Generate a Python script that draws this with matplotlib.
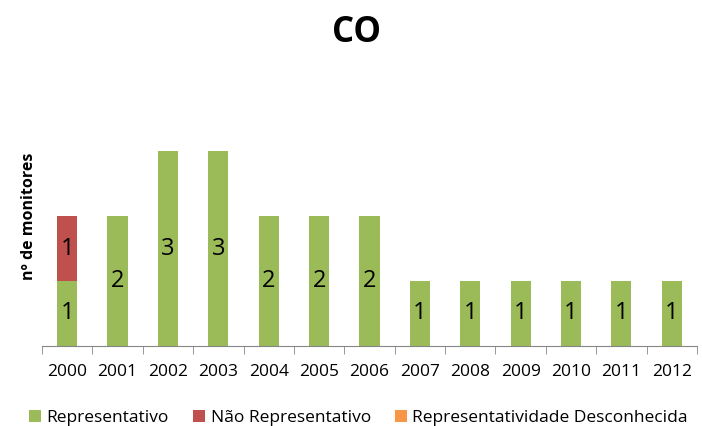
import matplotlib
matplotlib.use("Agg")
import matplotlib.pyplot as plt
import numpy as np

plt.rcParams['font.family'] = ['Open Sans', 'DejaVu Sans']

years = ['2000', '2001', '2002', '2003', '2004', '2005', '2006',
         '2007', '2008', '2009', '2010', '2011', '2012']
representativo = [1, 2, 3, 3, 2, 2, 2, 1, 1, 1, 1, 1, 1]
nao_representativo = [1, 0, 0, 0, 0, 0, 0, 0, 0, 0, 0, 0, 0]
desconhecida = [0, 0, 0, 0, 0, 0, 0, 0, 0, 0, 0, 0, 0]

c_green = '#9BBB59'
c_red = '#C0504D'
c_orange = '#F79646'

fig = plt.figure(figsize=(7.03, 4.26), dpi=100)
ax = fig.add_axes([0.0597, 0.1878, 0.9317, 0.6103])

x = np.arange(len(years))
w = 0.4
b1 = ax.bar(x, representativo, w, color=c_green, label='Representativo')
b2 = ax.bar(x, nao_representativo, w, bottom=representativo, color=c_red,
            label='Não Representativo')
bottom3 = np.array(representativo) + np.array(nao_representativo)
b3 = ax.bar(x, desconhecida, w, bottom=bottom3, color=c_orange,
            label='Representatividade Desconhecida')

for i in range(len(years)):
    if representativo[i] > 0:
        ax.text(x[i], representativo[i] / 2, str(representativo[i]),
                ha='center', va='center', fontsize=17, color='black')
    if nao_representativo[i] > 0:
        ax.text(x[i], representativo[i] + nao_representativo[i] / 2,
                str(nao_representativo[i]), ha='center', va='center',
                fontsize=17, color='black')

ax.set_xlim(-0.5, len(years) - 0.5)
ax.set_ylim(0, 4)
for s in ['top', 'right', 'left']:
    ax.spines[s].set_visible(False)
ax.spines['bottom'].set_color('#868686')
ax.set_yticks([])
ax.set_xticks(x)
ax.set_xticklabels(years, fontsize=12.5)
ax.set_xticks(np.arange(-0.5, len(years), 1), minor=True)
ax.tick_params(axis='x', which='major', length=0, pad=13)
ax.tick_params(axis='x', which='minor', length=6, color='#868686')

ax.set_ylabel('nº de monitores', fontsize=11.5, fontweight='bold')
ax.yaxis.set_label_coords(-0.008, 0.5)

fig.text(0.507, 0.922, 'CO', ha='center', va='center', fontsize=25,
         fontweight='bold')

fig.legend(handles=[b1, b2, b3], loc='center', bbox_to_anchor=(0.51, 0.018),
           ncol=3, frameon=False, fontsize=12.5, handlelength=0.7,
           handleheight=0.7, handletextpad=0.3, columnspacing=1.4)

fig.savefig('out.png', dpi=100)
